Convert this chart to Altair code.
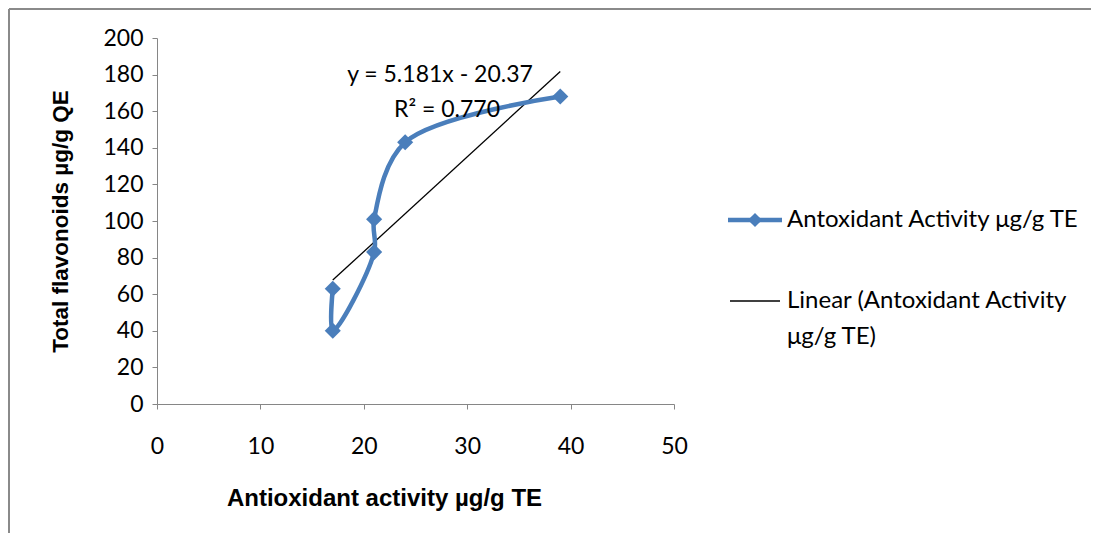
import altair as alt
import pandas as pd

# data (in drawing order of the smoothed Excel line)
activity = [17, 17, 21, 21, 24, 39]
flavonoids = [63, 40, 83, 101, 143, 168]
order_idx = [0, 1, 2, 3, 4, 5]

x_ticks = [0, 10, 20, 30, 40, 50]
y_ticks = [0, 20, 40, 60, 80, 100, 120, 140, 160, 180, 200]

series_name = "Antoxidant Activity μg/g TE"
trend_name = ["Linear (Antoxidant Activity", "μg/g TE)"]
equation = "y = 5.181x - 20.37"
r2_text = "R² = 0.770"

df = pd.DataFrame({"x": activity, "y": flavonoids, "i": order_idx})

BLUE = "#4A7EBB"
AXIS = "#868686"
FONT = "Lato"
BFONT = "Liberation Sans"
FS = 23

W, H = 517, 366
PL, PT = 149, 30
PR = 1083 - PL - W
PB = 525 - PT - H

xscale = alt.Scale(domain=[0, 50], nice=False, zero=False)
yscale = alt.Scale(domain=[0, 200], nice=False, zero=False)

xaxis = alt.Axis(
    values=x_ticks, grid=False, domainColor=AXIS, tickColor=AXIS, tickSize=5,
    labelFont=FONT, labelFontSize=FS, labelColor="#000", labelPadding=26,
    labelBaseline="top", labelFlush=False, labelOverlap=False,
    title="Antioxidant activity µg/g TE", titleFont=BFONT,
    titleFontSize=24, titleFontWeight="bold", titleColor="#000",
    titleX=227, titleY=94, titleAnchor="start", titleAlign="center",
    titleBaseline="middle",
)
yaxis = alt.Axis(
    values=y_ticks, grid=False, domainColor=AXIS, tickColor=AXIS, tickSize=5,
    labelFont=FONT, labelFontSize=FS, labelColor="#000", labelPadding=9,
    labelFlush=False, labelOverlap=False,
    title="Total flavonoids µg/g QE", titleFont=BFONT, titleFontSize=22.5,
    titleFontWeight="bold", titleColor="#000", titleX=-97, titleY=183,
    titleAngle=270, titleAlign="center", titleBaseline="middle",
)

base = alt.Chart(df)

line = base.mark_line(
    color=BLUE, strokeWidth=4.5, interpolate="catmull-rom"
).encode(
    x=alt.X("x:Q", scale=xscale, axis=xaxis),
    y=alt.Y("y:Q", scale=yscale, axis=yaxis),
    order="i:Q",
)
pts = base.mark_point(
    shape="diamond", filled=True, size=260, color=BLUE, opacity=1
).encode(
    x=alt.X("x:Q", scale=xscale, axis=xaxis),
    y=alt.Y("y:Q", scale=yscale, axis=yaxis),
)

trend = base.transform_regression("x", "y").mark_line(
    color="#000", strokeWidth=1.3
).encode(
    x=alt.X("x:Q", scale=xscale, axis=xaxis),
    y=alt.Y("y:Q", scale=yscale, axis=yaxis),
)

ann = pd.DataFrame({"t": [equation]})
eq_mark = alt.Chart(ann).mark_text(
    font=FONT, fontSize=FS, color="#000", align="center", baseline="middle"
).encode(x=alt.value(283), y=alt.value(37), text="t:N")
ann2 = pd.DataFrame({"t": [r2_text]})
r2_mark = alt.Chart(ann2).mark_text(
    font=FONT, fontSize=FS, color="#000", align="center", baseline="middle"
).encode(x=alt.value(290), y=alt.value(72), text="t:N")

# legend
leg1_line = alt.Chart(ann).mark_rule(color=BLUE, strokeWidth=4.5).encode(
    x=alt.value(571), x2=alt.value(625), y=alt.value(182)
)
leg1_pt = alt.Chart(ann).mark_point(
    shape="diamond", filled=True, size=200, color=BLUE, opacity=1
).encode(x=alt.value(598), y=alt.value(182))
leg1_txt = alt.Chart(pd.DataFrame({"t": [series_name]})).mark_text(
    font=FONT, fontSize=24, color="#000", align="left", baseline="middle"
).encode(x=alt.value(630), y=alt.value(182), text="t:N")
leg2_line = alt.Chart(ann).mark_rule(color="#000", strokeWidth=1.3).encode(
    x=alt.value(573), x2=alt.value(623), y=alt.value(263)
)
leg2_txt = alt.Chart(ann).mark_text(
    font=FONT, fontSize=24, color="#000", align="left", baseline="middle",
    lineHeight=36,
).encode(x=alt.value(630), y=alt.value(263), text=alt.value(trend_name))

frame_left = alt.Chart(ann).mark_rule(color="#8a8a8a", strokeWidth=2).encode(
    x=alt.value(-PL + 1), y=alt.value(-PT + 1), y2=alt.value(H + PB)
)
frame_top = alt.Chart(ann).mark_rule(color="#8a8a8a", strokeWidth=2).encode(
    y=alt.value(-PT + 1), x=alt.value(-PL + 1), x2=alt.value(W + PR)
)

chart = alt.layer(
    trend, line, pts, frame_left, frame_top, eq_mark, r2_mark,
    leg1_line, leg1_pt, leg1_txt, leg2_line, leg2_txt,
).properties(
    width=W, height=H,
    autosize=alt.AutoSizeParams(type="none"),
    padding={"left": PL, "top": PT, "right": PR, "bottom": PB},
).configure_view(strokeWidth=0)

chart.save("out.html", embed_options={"renderer": "svg", "actions": False})
